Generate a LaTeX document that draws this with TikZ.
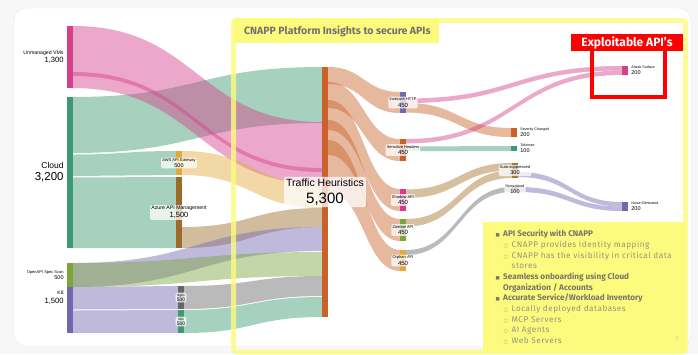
\documentclass[tikz,border=0pt]{standalone}
\usepackage{fontspec}
\setmainfont{Liberation Sans}
\newfontfamily\slidefont{Fira Sans}
\newfontfamily\bulfont[LetterSpace=6, BoldFeatures={LetterSpace=0}]{Fira Sans}
\newfontfamily\symfont{DejaVu Sans}
\usetikzlibrary{positioning}

\definecolor{vmsc}{RGB}{214,64,138}
\definecolor{cloudc}{RGB}{62,154,114}
\definecolor{awsc}{RGB}{224,169,58}
\definecolor{azurec}{RGB}{156,107,42}
\definecolor{k8c}{RGB}{114,104,176}
\definecolor{specc}{RGB}{124,166,60}
\definecolor{nginxc}{RGB}{102,102,102}
\definecolor{thc}{RGB}{201,98,42}
\definecolor{shadowc}{RGB}{222,56,140}
\definecolor{autoc}{RGB}{165,115,40}
\definecolor{slideyel}{RGB}{253,251,125}
\definecolor{slidegray}{RGB}{118,118,104}
\definecolor{slidelite}{RGB}{148,148,128}
\definecolor{titlegray}{RGB}{112,112,112}
\definecolor{alertred}{RGB}{255,0,0}

\newcommand{\fsz}[1]{\fontsize{#1}{#1}\selectfont}
% colour, x1, top1, bottom1, x2, top2, bottom2
\newcommand{\fband}[7]{%
  \fill[band, #1] (#2,#3) .. controls ({(#2+#5)/2},#3) and ({(#2+#5)/2},#6) .. (#5,#6)
    -- (#5,#7) .. controls ({(#2+#5)/2},#7) and ({(#2+#5)/2},#4) .. (#2,#4) -- cycle;}
\newcommand{\sqbul}{\makebox[7.5pt][l]{\symfont\fsz{4.5}■}}
\newcommand{\cibul}{\makebox[8pt][l]{\symfont\fsz{5}○}}

\begin{document}
\begin{tikzpicture}[x=1pt, y=-1pt,
        bar/.style = {inner sep=0pt, minimum width=6pt},
        band/.style = {fill opacity=0.45},
        lbox/.style = {fill=white, fill opacity=0.75, text opacity=1, rounded corners=1.5pt,
                       inner sep=1.2pt, align=center},
        lft/.style = {align=right, inner sep=0pt},
        rgt/.style = {align=left, inner sep=0pt},
        item/.style = {anchor=west, inner sep=0pt, text height=5.5pt, text depth=1.5pt,
                       font=\bulfont\fsz{8.2}}
    ]
    \useasboundingbox (0,0) rectangle (698,354);
    %--- Slide ---%
        \fill[gray!6] (0,0) rectangle (698,354);
        \draw[gray!18, fill=white, rounded corners=12] (14,8) rectangle (691,346);
        \fill[slideyel] (233.5,18) rectangle (439,43);
        \fill[slideyel] (483,222) rectangle (685.5,352);
    %--- Draw Flows ---%
        \fband{fill=cloudc}{73}{97}{153}{322}{67}{123}
        \fband{fill=vmsc}{73}{26}{76}{322}{122}{172}
        \fband{fill=vmsc}{73}{72}{88}{322}{168}{184}
        \fband{fill=cloudc}{73}{154.5}{176}{176}{151}{175}
        \fband{fill=cloudc}{73}{177.5}{248}{176}{177}{248}
        \fband{fill=awsc}{182}{151}{175}{322}{184}{208}
        \fband{fill=azurec}{182}{227}{248}{322}{208}{227}
        \fband{fill=k8c}{73}{263}{287}{322}{227}{251}
        \fband{fill=specc}{73}{263}{287}{322}{252}{276}
        \fband{fill=k8c}{73}{287}{309.5}{178}{286}{309}
        \fband{fill=k8c}{73}{310.5}{333}{178}{310}{333}
        \fband{fill=nginxc}{184}{286}{309}{322}{276}{296}
        \fband{fill=cloudc}{184}{310}{333}{322}{297}{317}
        %--- Heuristics out ---%
        \fband{fill=thc}{328}{67}{84}{400}{92}{113}
        \fband{fill=thc}{328}{82}{108}{400}{139}{161}
        \fband{fill=thc}{328}{100}{130}{400}{189}{211}
        \fband{fill=thc}{328}{120}{155}{400}{219}{241}
        \fband{fill=thc}{328}{140}{192}{400}{250}{271}
        %--- Outcomes ---%
        \fband{fill=vmsc}{406}{98.5}{103}{622}{66}{70.5}
        \fband{fill=thc}{406}{103}{112.5}{511}{128}{137}
        \fband{fill=vmsc}{406}{139}{143.5}{622}{70.5}{75}
        \fband{fill=cloudc}{406}{146.5}{151}{511}{146}{151}
        \fband{fill=autoc}{406}{189.5}{198}{512}{163}{170.5}
        \fband{fill=autoc}{406}{219}{226.5}{512}{170.5}{178}
        \fband{fill=nginxc}{406}{250}{255}{512}{187}{192}
        \fband{fill=k8c}{518}{172}{177}{622}{202}{206.5}
        \fband{fill=k8c}{518}{187}{192}{622}{206.5}{211}
    %--- Draw Bars ---%
        \node (vms) [bar, fill=vmsc, minimum height=62] at (70,57) {};
        \node (cloud) [bar, fill=cloudc, minimum height=151] at (70,172.5) {};
        \node (k8) [bar, fill=k8c, minimum height=70] at (70,298) {};
        \node (spec) [bar, fill=specc, minimum height=24] at (70,275) {};
        \node (aws) [bar, fill=awsc, minimum height=24] at (179,163) {};
        \node (azure) [bar, fill=azurec, minimum height=71] at (179,212.5) {};
        \node (nginx) [bar, fill=nginxc, minimum height=23] at (181,297.5) {};
        \node (istio) [bar, fill=cloudc, minimum height=23] at (181,321.5) {};
        \node (th) [bar, fill=thc, minimum height=250] at (325,192) {};
        \node (http) [bar, fill=k8c, minimum height=21] at (403,102.5) {};
        \node (hdr) [bar, fill=thc, minimum height=22] at (403,150) {};
        \node (shadow) [bar, fill=shadowc, minimum height=22] at (403,200) {};
        \node (zombie) [bar, fill=specc, minimum height=22] at (403,230) {};
        \node (orphan) [bar, fill=awsc, minimum height=21] at (403,260.5) {};
        \node (sev) [bar, fill=thc, minimum height=9.5] at (514,132.5) {};
        \node (tok) [bar, fill=cloudc, minimum height=5] at (514,148.5) {};
        \node (auto) [bar, fill=autoc, minimum height=15] at (515,170.5) {};
        \node (remed) [bar, fill=nginxc, minimum height=5] at (515,189.5) {};
        \node (atk) [bar, fill=vmsc, minimum height=9] at (625,70.5) {};
        \node (noise) [bar, fill=k8c, minimum height=9] at (625,206.5) {};
    %--- Frame ---%
        \draw[slideyel, line width=5, draw opacity=0.8, rounded corners=3] (233.5,20.5) rectangle (685.5,352);
    %--- Draw Labels ---%
        \node (vmslbl) [lft, left=3pt of vms, font=\fontsize{7.6}{7.8}\selectfont] {{\fsz{5.2}Unmanaged VMs}\\1,300};
        \node (cloudlbl) [lft, left=3pt of cloud, font=\fontsize{11.5}{12}\selectfont] {{\fsz{8.5}Cloud}\\3,200};
        \node (speclbl) [lft, left=3pt of spec, font=\fontsize{5.5}{6.6}\selectfont] {{\fsz{4}OpenAPI Spec Scan}\\500};
        \node (k8lbl) [lft, left=3pt of k8, font=\fontsize{7.6}{8.9}\selectfont] {{\fsz{5}K8}\\1,500};
        \node (awslbl) [lbox, font=\fontsize{5.5}{5.5}\selectfont] at (aws) {{\fsz{4}AWS API Gateway}\\500};
        \node (azurelbl) [lbox, font=\fontsize{7.5}{8}\selectfont] at (azure) {{\fsz{5.2}Azure API Management}\\1,500};
        \node (nginxlbl) [lbox, font=\fontsize{5}{5}\selectfont] at (nginx) {{\fsz{3}Nginx}\\500};
        \node (istiolbl) [lbox, font=\fontsize{5}{5}\selectfont] at (istio) {{\fsz{3}istio}\\500};
        \node (thlbl) [lbox, inner sep=2pt, font=\fontsize{15}{16.5}\selectfont] at (th) {{\fsz{10.5}Traffic Heuristics}\\5,300};
        \node (httplbl) [lbox, font=\fontsize{6}{6.5}\selectfont] at (http) {{\fsz{4}Insecure HTTP}\\450};
        \node (hdrlbl) [lbox, font=\fontsize{6}{6.5}\selectfont] at (hdr) {{\fsz{4}Sensitive Headers}\\450};
        \node (shadowlbl) [lbox, font=\fontsize{6}{6.5}\selectfont] at (shadow) {{\fsz{4}Shadow API}\\450};
        \node (zombielbl) [lbox, font=\fontsize{6}{6.5}\selectfont] at (zombie) {{\fsz{4}Zombie API}\\450};
        \node (orphanlbl) [lbox, font=\fontsize{6}{6.5}\selectfont] at (orphan) {{\fsz{4}Orphan API}\\450};
        \node (autolbl) [lbox, font=\fontsize{5.5}{6}\selectfont] at (auto) {{\fsz{4}Auto-suppressed}\\300};
        \node (remedlbl) [lbox, font=\fontsize{5.5}{5.5}\selectfont] at (remed) {{\fsz{3.5}Remediated}\\100};
        \node (sevlbl) [rgt, right=3pt of sev, font=\fontsize{5.5}{6}\selectfont] {{\fsz{3.6}Severity Changed}\\200};
        \node (toklbl) [rgt, right=3pt of tok, font=\fontsize{5.5}{6}\selectfont] {{\fsz{3.6}Tokenize}\\100};
        \node (atklbl) [rgt, right=3pt of atk, font=\fontsize{5.5}{6}\selectfont] {{\fsz{3.6}Attack Surface}\\200};
        \node (noiselbl) [rgt, right=3pt of noise, font=\fontsize{5.5}{6}\selectfont] {{\fsz{3.6}Noise Eliminated}\\200};
    %--- Callouts ---%
        \node (ttl) [anchor=west, inner sep=0pt, text=titlegray, font=\slidefont\bfseries\fsz{10.5}] at (244,31) {CNAPP Platform Insights to secure APIs};
        \node (xbox) [draw=alertred, line width=4pt, minimum width=72.5, minimum height=48] at (628.25,73) {};
        \node (xlbl) [fill=alertred, text=white, inner sep=0pt, minimum width=112, minimum height=17,
                      font=\slidefont\bfseries\fsz{12}] at (627,42.5) {Exploitable API’s};
    %--- Bullets ---%
        \node (b1) [item, text=slidegray] at (495.5,234) {\sqbul\textbf{API Security with CNAPP}};
        \node (b2) [item, text=slidelite] at (503.5,245) {\cibul CNAPP provides Identity mapping};
        \node (b3) [item, text=slidelite] at (503.5,256) {\cibul CNAPP has the visibility in critical data};
        \node (b4) [item, text=slidelite] at (511.5,266.5) {stores};
        \node (b5) [item, text=slidegray] at (495.5,277) {\sqbul\textbf{Seamless onboarding using Cloud}};
        \node (b6) [item, text=slidegray] at (503,288) {\textbf{Organization / Accounts}};
        \node (b7) [item, text=slidegray] at (495.5,298.5) {\sqbul\textbf{Accurate Service/Workload Inventory}};
        \node (b8) [item, text=slidelite] at (503.5,309) {\cibul Locally deployed databases};
        \node (b9) [item, text=slidelite] at (503.5,320) {\cibul MCP Servers};
        \node (b10) [item, text=slidelite] at (503.5,330.5) {\cibul AI Agents};
        \node (b11) [item, text=slidelite] at (503.5,341) {\cibul Web Servers};
        \node (pgno) [text=slideyel!70!gray, font=\slidefont\fsz{6}] at (677,339) {5};
\end{tikzpicture}
\end{document}
